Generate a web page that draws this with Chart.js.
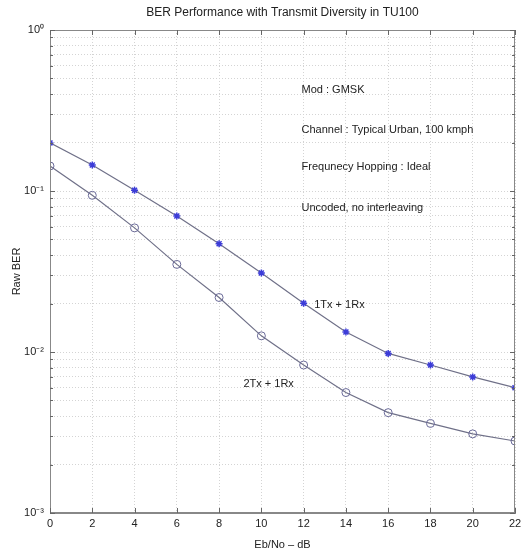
<!DOCTYPE html>
<html>
<head>
<meta charset="utf-8">
<script src="https://cdn.jsdelivr.net/npm/chart.js@4/dist/chart.umd.min.js"></script>
<style>
  body { margin: 0; background: #fff; }
  canvas { display: block; }
</style>
</head>
<body>
<canvas id="ber" width="521" height="554"></canvas>
<script>
// Eb/No in dB
const ebno = [0, 2, 4, 6, 8, 10, 12, 14, 16, 18, 20, 22]
const ber_1tx = [0.199, 0.145, 0.101, 0.070, 0.047, 0.031, 0.0201, 0.0133, 0.0098, 0.0083, 0.0070, 0.0060]
const ber_2tx = [0.143, 0.094, 0.059, 0.035, 0.0218, 0.0126, 0.0083, 0.0056, 0.0042, 0.0036, 0.0031, 0.0028]
const series_names = ['1Tx + 1Rx', '2Tx + 1Rx']

// text notes placed at data coords [x, y]
const notes = ['Mod : GMSK', 'Channel : Typical Urban, 100 kmph', 'Frequnecy Hopping : Ideal', 'Uncoded, no interleaving']
const note_x = [11.9, 11.9, 11.9, 11.9]
const note_y = [0.424, 0.239, 0.141, 0.078]
const label_x = [12.5, 9.15]
const label_y = [0.0195, 0.0063]

const exps = {'0': '\u2070', '-1': '\u207B\u00B9', '-2': '\u207B\u00B2', '-3': '\u207B\u00B3'}
const font = 'Liberation Sans, Arial, sans-serif'

const points = (xs, ys) => xs.map((x, i) => ({x: x, y: ys[i]}))

const extras = {
    id: 'extras',
    afterDraw(chart){
        const c = chart.ctx
        const a = chart.chartArea
        const xs = chart.scales.x
        const ys = chart.scales.y
        c.save()
        c.strokeStyle = '#888'
        c.lineWidth = 1
        c.strokeRect(a.left + 0.5, a.top + 0.5, a.right - a.left - 1, a.bottom - a.top - 1)
        // inward tick marks like matlab
        c.strokeStyle = '#666'
        c.beginPath()
        ys.ticks.forEach(t => {
            const py = Math.round(ys.getPixelForValue(t.value)) + 0.5
            const e = Math.log10(t.value)
            const len = Math.abs(e - Math.round(e)) < 1e-9 ? 5 : 3
            c.moveTo(a.left, py); c.lineTo(a.left + len, py)
            c.moveTo(a.right, py); c.lineTo(a.right - len, py)
        })
        xs.ticks.forEach(t => {
            const px = Math.round(xs.getPixelForValue(t.value)) + 0.5
            c.moveTo(px, a.bottom); c.lineTo(px, a.bottom - 5)
            c.moveTo(px, a.top); c.lineTo(px, a.top + 5)
        })
        c.stroke()
        c.fillStyle = '#222'
        c.font = '11px ' + font
        c.textBaseline = 'middle'
        c.textAlign = 'left'
        notes.forEach((t, i) => c.fillText(t, xs.getPixelForValue(note_x[i]), ys.getPixelForValue(note_y[i])))
        series_names.forEach((t, i) => c.fillText(t, xs.getPixelForValue(label_x[i]), ys.getPixelForValue(label_y[i])))
        c.textAlign = 'center'
        c.font = '12px ' + font
        c.fillText('BER Performance with Transmit Diversity in TU100', (a.left + a.right) / 2, 13)
        c.restore()
    }
}

new Chart(document.getElementById('ber'), {
    type: 'line',
    data: {
        datasets: [
            {
                label: series_names[0],
                data: points(ebno, ber_1tx),
                borderColor: '#6f7088',
                borderWidth: 1.2,
                pointStyle: 'star',
                pointRadius: 3.5,
                pointBorderColor: '#3c3cd8',
                pointBorderWidth: 1.5,
                fill: false,
                tension: 0
            },
            {
                label: series_names[1],
                data: points(ebno, ber_2tx),
                borderColor: '#6f7088',
                borderWidth: 1.2,
                pointStyle: 'circle',
                pointRadius: 4,
                pointBackgroundColor: 'rgba(0,0,0,0)',
                pointBorderColor: '#6a6a98',
                pointBorderWidth: 1,
                fill: false,
                tension: 0
            }
        ]
    },
    options: {
        responsive: false,
        animation: false,
        layout: {padding: {top: 30, right: 6, left: 0, bottom: 0}},
        plugins: {legend: {display: false}, tooltip: {enabled: false}},
        scales: {
            x: {
                type: 'linear',
                min: 0,
                max: 22,
                afterFit: s => { s.height = 41; s.paddingRight = 0; s.paddingLeft = 0 },
                ticks: {stepSize: 2, color: '#222', font: {family: font, size: 11}, padding: 4},
                grid: {color: '#d4d4d4', borderDash: [1, 2], drawTicks: false},
                border: {color: '#888', dash: [1, 2]},
                title: {display: true, text: 'Eb/No \u2013 dB', color: '#222', font: {family: font, size: 11}, padding: {top: 0, bottom: 2}}
            },
            y: {
                type: 'logarithmic',
                min: 0.001,
                max: 1,
                afterFit: s => { s.width = 50; s.paddingTop = 0; s.paddingBottom = 0 },
                afterBuildTicks: s => {
                    const t = []
                    for (let e = -3; e < 0; e++){
                        for (let m = 1; m < 10; m++) t.push({value: m * Math.pow(10, e)})
                    }
                    t.push({value: 1})
                    s.ticks = t
                },
                ticks: {
                    autoSkip: false,
                    color: '#222',
                    font: {family: font, size: 11},
                    padding: 6,
                    callback: v => {
                        const e = Math.log10(v)
                        if (Math.abs(e - Math.round(e)) > 1e-9) return ''
                        return '10' + exps[String(Math.round(e))]
                    }
                },
                grid: {color: '#d4d4d4', borderDash: [1, 2], drawTicks: false},
                border: {color: '#888', dash: [1, 2]},
                title: {display: true, text: 'Raw BER', color: '#222', font: {family: font, size: 11}, padding: {top: 10, bottom: 0}}
            }
        }
    },
    plugins: [extras]
})
</script>
</body>
</html>
